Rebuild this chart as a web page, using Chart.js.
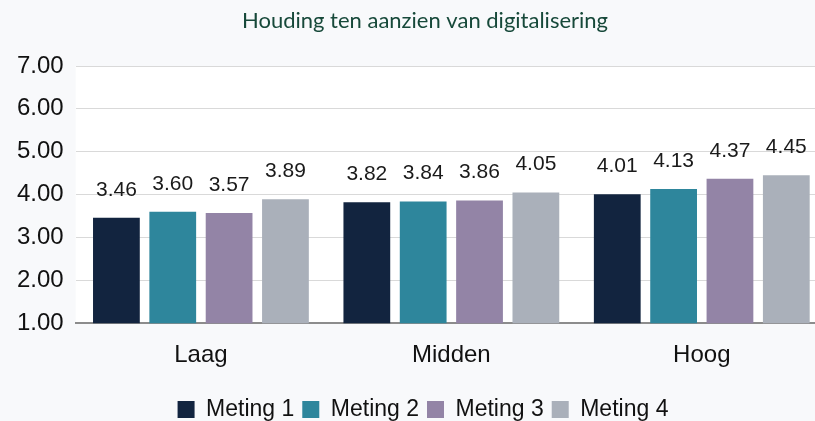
<!DOCTYPE html>
<html><head><meta charset="utf-8">
<script src="https://cdn.jsdelivr.net/npm/chart.js@4.4.0/dist/chart.umd.min.js"></script>
<style>html,body{margin:0;padding:0;background:#f8f9fb;overflow:hidden;}#wrap{width:815px;height:421px;overflow:hidden;}</style>
</head><body><div id="wrap"><canvas id="c" width="827" height="421"></canvas></div>
<script>
const categories = ["Laag", "Midden", "Hoog"];
const seriesNames = ["Meting 1", "Meting 2", "Meting 3", "Meting 4"];
const meting1 = [3.46, 3.82, 4.01];
const meting2 = [3.60, 3.84, 4.13];
const meting3 = [3.57, 3.86, 4.37];
const meting4 = [3.89, 4.05, 4.45];
const yTicks = [1, 2, 3, 4, 5, 6, 7];
const titleText = "Houding ten aanzien van digitalisering";
const colors = ["#12243f", "#2e869c", "#9384a6", "#aab0ba"];
const seriesValues = [meting1, meting2, meting3, meting4];
const FONT = "'Liberation Sans', Arial, Helvetica, sans-serif";

const valueLabels = {
  id: 'valueLabels',
  afterDatasetsDraw(chart) {
    const ctx = chart.ctx;
    ctx.save();
    ctx.font = "21px " + FONT;
    ctx.fillStyle = '#1a1a1a';
    ctx.textAlign = 'center';
    ctx.textBaseline = 'middle';
    chart.data.datasets.forEach((ds, i) => {
      chart.getDatasetMeta(i).data.forEach((bar, j) => {
        ctx.fillText(ds.data[j].toFixed(2), bar.x, bar.y - 28);
      });
    });
    ctx.restore();
  }
};
const plotBg = {
  id: 'plotBg',
  beforeDraw(chart) {
    const {ctx, chartArea:a} = chart;
    ctx.save();
    ctx.fillStyle = '#ffffff';
    ctx.fillRect(a.left, a.top, a.right - a.left, a.bottom - a.top);
    ctx.restore();
  }
};
const titlePlugin = {
  id: 'titlePlugin',
  afterDraw(chart) {
    const ctx = chart.ctx;
    ctx.save();
    ctx.font = "22px Lato, 'Open Sans', sans-serif";
    ctx.fillStyle = '#17493a';
    ctx.textAlign = 'center';
    ctx.textBaseline = 'middle';
    ctx.fillText(titleText, 425, 21);
    ctx.restore();
  }
};
const legendShift = {
  id: 'legendShift',
  afterLayout(chart) {
    const lg = chart.legend;
    lg.left += 7; lg.right += 7;
    lg.top += 10; lg.bottom += 10;
  }
};

new Chart(document.getElementById('c'), {
  type: 'bar',
  data: {
    labels: categories,
    datasets: seriesValues.map((v, i) => ({
      label: seriesNames[i], data: v, backgroundColor: colors[i],
      barPercentage: 0.83, categoryPercentage: 0.9
    }))
  },
  options: {
    responsive: false, animation: false,
    layout: { padding: { left: 5, right: 0, top: 66, bottom: 0 } },
    plugins: {
      title: { display: false },
      legend: { position: 'bottom',
        labels: { color: '#111', font: { family: FONT, size: 23 },
          boxWidth: 17, boxHeight: 17, padding: 8 } },
      tooltip: { enabled: false }
    },
    scales: {
      x: {
        grid: { display: false },
        border: { color: '#8c8c8c', width: 2 },
        ticks: { color: '#111', font: { family: FONT, size: 24 }, padding: 10 }
      },
      y: {
        min: 1, max: 7, z: 1,
        afterBuildTicks(s) { s.ticks = yTicks.map(v => ({ value: v })); },
        grid: { color: 'rgba(0,0,0,0.15)', drawTicks: false },
        border: { display: false },
        ticks: { color: '#111', padding: 12,
          font: { family: FONT, size: 24 },
          callback: v => Number(v).toFixed(2) }
      }
    }
  },
  plugins: [plotBg, valueLabels, titlePlugin, legendShift]
});
</script></body></html>
